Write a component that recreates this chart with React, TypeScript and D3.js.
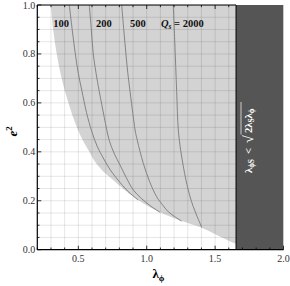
import React from 'react';
import * as d3 from 'd3';

// reading of the figure: lambda_phi on x, e^2 on y
const xTicksMajor = [0.5, 1.0, 1.5, 2.0];
const yTicksMajor = [0.0, 0.2, 0.4, 0.6, 0.8, 1.0];
const boxStart = 1.653;

const qLabels = ['100', '200', '500', '2000'];
const qLabelLam = [0.375, 0.686, 0.935, 1.26];

// shaded region lower/left edge [lambda, e2]
const boundary: [number, number][] = [
  [0.3, 1.0], [0.316, 0.9], [0.342, 0.8], [0.378, 0.7], [0.428, 0.6], [0.476, 0.52],
  [0.53, 0.45], [0.575, 0.405], [0.612, 0.368], [0.665, 0.33], [0.731, 0.296],
  [0.83, 0.248], [0.938, 0.203], [1.02, 0.175], [1.097, 0.153], [1.17, 0.136],
  [1.255, 0.117], [1.4, 0.09], [1.52, 0.058], [1.632, 0.028], [1.7, 0.012],
];

const q100: [number, number][] = [
  [0.434, 1.0], [0.455, 0.9], [0.478, 0.8], [0.5, 0.72], [0.525, 0.652], [0.56, 0.56],
  [0.6, 0.48], [0.64, 0.42], [0.682, 0.375], [0.735, 0.325], [0.79, 0.285], [0.86, 0.24], [0.938, 0.203],
];
const q200: [number, number][] = [
  [0.58, 1.0], [0.595, 0.9], [0.609, 0.8], [0.63, 0.72], [0.653, 0.647], [0.69, 0.54],
  [0.726, 0.447], [0.765, 0.39], [0.805, 0.346], [0.85, 0.295], [0.902, 0.244],
  [0.96, 0.21], [1.03, 0.178], [1.097, 0.153],
];
const q500: [number, number][] = [
  [0.817, 1.0], [0.832, 0.9], [0.848, 0.8], [0.862, 0.72], [0.878, 0.647], [0.9, 0.55],
  [0.915, 0.489], [0.931, 0.447], [0.975, 0.353], [1.02, 0.28], [1.073, 0.216],
  [1.12, 0.18], [1.158, 0.155], [1.205, 0.135], [1.255, 0.117],
];
const q2000: [number, number][] = [
  [1.194, 1.0], [1.205, 0.85], [1.219, 0.647], [1.231, 0.489], [1.25, 0.4], [1.287, 0.284],
  [1.315, 0.22], [1.34, 0.176], [1.369, 0.135], [1.402, 0.092],
];
const qCurves = [q100, q200, q500, q2000];

const W = 290;
const H = 286;
const M = { left: 37.3, right: 6.5, top: 5, bottom: 36.3 };
const SERIF = '"Liberation Serif", "DejaVu Serif", serif';

export default function App() {
  const x = d3.scaleLinear().domain([0.2, 2.0]).range([M.left, W - M.right]);
  const y = d3.scaleLinear().domain([0, 1]).range([H - M.bottom, M.top]);
  const [x0, x1] = x.range();
  const [y0, y1] = y.range();

  const minorX = d3.range(2, 21).map((d) => d / 10);
  const minorY = d3.range(0, 21).map((d) => d / 20);

  const curve = d3
    .line<[number, number]>()
    .x((d) => x(d[0]))
    .y((d) => y(d[1]))
    .curve(d3.curveCatmullRom.alpha(0.5));

  const last = boundary[boundary.length - 1];
  const shade = curve(boundary) + `L${x(last[0])},${y(1)}Z`;

  const bx = x(boxStart);

  return (
    <svg width={W} height={H} style={{ position: 'absolute', left: 0, top: 0, background: '#fff' }} fontFamily={SERIF}>
      <defs>
        <clipPath id="plot">
          <rect x={x0} y={y1} width={x1 - x0} height={y0 - y1} />
        </clipPath>
      </defs>
      <g clipPath="url(#plot)">
        <path d={shade} fill="#d3d3d3" />
        {minorX.map((v) => (
          <line key={'gx' + v} x1={x(v)} x2={x(v)} y1={y0} y2={y1} stroke="rgba(0,0,0,0.13)" strokeWidth={0.8} />
        ))}
        {minorY.map((v) => (
          <line key={'gy' + v} x1={x0} x2={x1} y1={y(v)} y2={y(v)} stroke="rgba(0,0,0,0.13)" strokeWidth={0.8} />
        ))}
        {qCurves.map((c, i) => (
          <path key={i} d={curve(c) || ''} fill="none" stroke="#7a7a7a" strokeWidth={0.9} />
        ))}
        <rect x={bx} y={y1} width={x1 - bx} height={y0 - y1} fill="#555555" />
        <line x1={bx} x2={bx} y1={y1} y2={y0} stroke="#000" strokeWidth={1} />
      </g>

      {/* ticks */}
      {minorX.map((v) => {
        const major = xTicksMajor.some((t) => Math.abs(t - v) < 1e-6);
        const len = major ? 4 : 2.2;
        return (
          <g key={'tx' + v}>
            <line x1={x(v)} x2={x(v)} y1={y0} y2={y0 - len} stroke="#000" strokeWidth={0.8} />
            {v < boxStart && <line x1={x(v)} x2={x(v)} y1={y1} y2={y1 + len} stroke="#000" strokeWidth={0.8} />}
          </g>
        );
      })}
      {minorY.map((v) => {
        const major = yTicksMajor.some((t) => Math.abs(t - v) < 1e-6);
        const len = major ? 4 : 2.2;
        return <line key={'ty' + v} x1={x0} x2={x0 + len} y1={y(v)} y2={y(v)} stroke="#000" strokeWidth={0.8} />;
      })}

      {/* frame */}
      <line x1={x0} x2={x1} y1={y0} y2={y0} stroke="#000" strokeWidth={1.2} />
      <line x1={x0} x2={x0} y1={y0} y2={y1} stroke="#000" strokeWidth={1.2} />
      <line x1={x0} x2={bx} y1={y1} y2={y1} stroke="#000" strokeWidth={1.2} />

      {/* tick labels */}
      {xTicksMajor.map((v) => (
        <text key={'lx' + v} x={x(v)} y={y0 + 12} fontSize={10} textAnchor="middle" fill="#333">
          {v.toFixed(1)}
        </text>
      ))}
      {yTicksMajor.map((v) => (
        <text key={'ly' + v} x={x0 - 2} y={y(v) + 3.5} fontSize={10} textAnchor="end" fill="#333">
          {v.toFixed(1)}
        </text>
      ))}

      {/* axis titles */}
      <text x={(x0 + x1) / 2 - 2} y={278} fontSize={13} fontWeight="bold" textAnchor="middle">
        λ<tspan fontSize={9} dy={3}>ϕ</tspan>
      </text>
      <text transform={`translate(17, ${(y0 + y1) / 2 + 4}) rotate(-90)`} fontSize={13} fontWeight="bold" fontStyle="italic" textAnchor="middle">
        e<tspan fontSize={9} dy={-5} fontStyle="normal">2</tspan>
      </text>

      {/* curve labels */}
      {qLabels.map((s, i) =>
        i < 3 ? (
          <text key={s} x={x(qLabelLam[i])} y={27} fontSize={10.5} fontWeight="bold" textAnchor="middle" fill="#111">
            {s}
          </text>
        ) : (
          <text key={s} x={x(qLabelLam[i])} y={27} fontSize={10.5} fontWeight="bold" textAnchor="middle" fill="#111">
            <tspan fontStyle="italic">Q</tspan>
            <tspan fontSize={7.5} dy={2} fontStyle="italic">s</tspan>
            <tspan dy={-2}> = {s}</tspan>
          </text>
        ),
      )}

      {/* box annotation */}
      <g transform={`translate(251.5, 173) rotate(-90)`} fill="#fff" fontSize={10.5} fontWeight="bold">
        <text x={0} y={0}>
          λ<tspan fontSize={7.5} dy={2}>ϕS</tspan>
        </text>
        <text x={19} y={0}>&lt;</text>
        <text x={30} y={1} fontSize={14} fontWeight="normal">√</text>
        <line x1={38.5} x2={71} y1={-10.5} y2={-10.5} stroke="#fff" strokeWidth={0.7} />
        <text x={40} y={0}>
          2λ<tspan fontSize={7.5} dy={2}>S</tspan>
          <tspan dy={-2}>λ</tspan>
          <tspan fontSize={7.5} dy={2}>ϕ</tspan>
        </text>
      </g>
    </svg>
  );
}
